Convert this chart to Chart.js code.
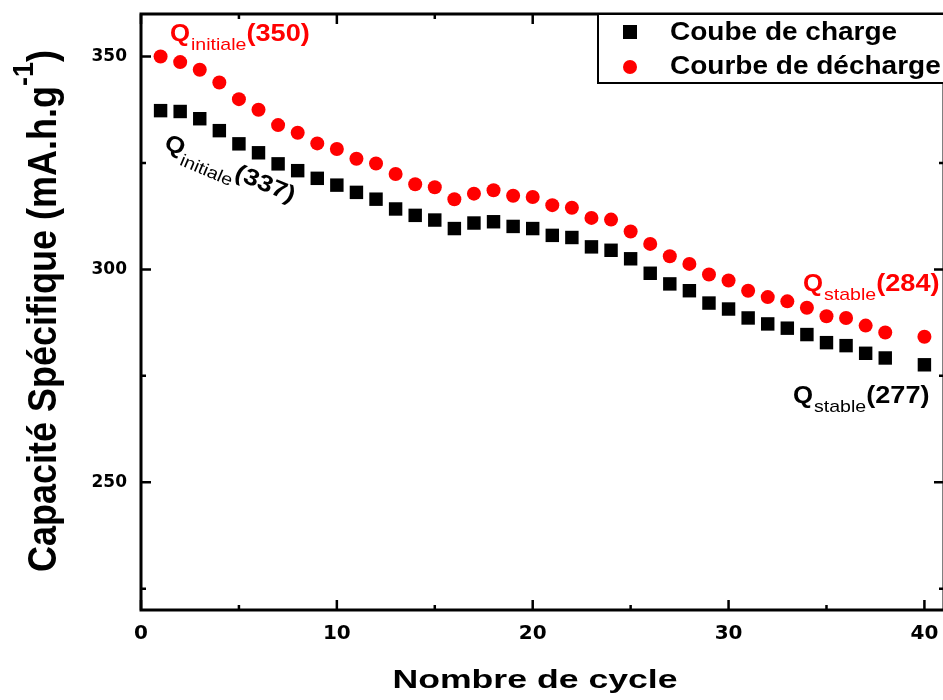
<!DOCTYPE html>
<html lang="fr">
<head>
<meta charset="utf-8">
<title>Capacité spécifique en fonction du nombre de cycles</title>
<script src="https://cdn.jsdelivr.net/npm/chart.js@4.4.1/dist/chart.umd.min.js"></script>
<style>
    html, body { margin: 0; padding: 0; background: #fff; overflow: hidden; }
    #cadre { width: 943px; height: 700px; overflow: hidden; }
</style>
</head>
<body>
<div id="cadre"><canvas id="graphe" width="960" height="700"></canvas></div>
<script>
// Numéros de cycle (le cycle 39 n'apparaît pas sur la figure)
const cycles = [1, 2, 3, 4, 5, 6, 7, 8, 9, 10, 11, 12, 13, 14, 15, 16, 17, 18, 19, 20,
    21, 22, 23, 24, 25, 26, 27, 28, 29, 30, 31, 32, 33, 34, 35, 36, 37, 38, 40];

// Capacité spécifique (mA.h.g-1)
const capaCharge = [337.3, 337.1, 335.4, 332.6, 329.5, 327.4, 324.8, 323.2, 321.4, 319.8,
    318.1, 316.5, 314.2, 312.7, 311.6, 309.6, 310.9, 311.2, 310.1, 309.6,
    308.0, 307.5, 305.3, 304.5, 302.5, 299.1, 296.6, 295.0, 292.1, 290.7,
    288.6, 287.2, 286.2, 284.7, 282.8, 282.1, 280.3, 279.2, 277.6];
const capaDecharge = [350.0, 348.7, 346.9, 343.9, 340.0, 337.5, 333.9, 332.1, 329.6, 328.3,
    326.0, 324.9, 322.4, 320.0, 319.3, 316.5, 317.8, 318.6, 317.3, 317.0,
    315.1, 314.5, 312.1, 311.7, 308.9, 306.0, 303.1, 301.3, 298.8, 297.4,
    295.0, 293.5, 292.5, 291.0, 289.0, 288.6, 286.8, 285.2, 284.2];

// Graduations
const ticksX = [0, 10, 20, 30, 40];
const minorX = [5, 15, 25, 35];
const ticksY = [250, 300, 350];
const minorY = [225, 275, 325];

const labelCharge = 'Coube de charge';
const labelDecharge = 'Courbe de décharge';

// Annotations (position en unités du graphique)
const annotations = [
    { sub: 'initiale', val: '(350)', x: 1.48, y: 353.7, color: '#ff0000', angle: 0 },
    { sub: 'initiale', val: '(337)', x: 1.12, y: 328.5, color: '#000000', angle: 23 },
    { sub: 'stable', val: '(284)', x: 33.8, y: 294.9, color: '#ff0000', angle: 0 },
    { sub: 'stable', val: '(277)', x: 33.29, y: 268.6, color: '#000000', angle: 0 }
];

const police = '"Liberation Sans", Arial, sans-serif';

function texteEtire(ctx, str, x, y, font, etire) {
    ctx.save();
    ctx.font = font;
    ctx.translate(x, y);
    ctx.scale(etire, 1);
    ctx.fillText(str, 0, 0);
    const w = ctx.measureText(str).width * etire;
    ctx.restore();
    return w;
}

// Cadre avec graduations vers l'intérieur
const cadrePlugin = {
    id: 'cadrePlugin',
    afterDatasetsDraw(chart) {
        const ctx = chart.ctx;
        const a = chart.chartArea;
        const sx = chart.scales.x;
        const sy = chart.scales.y;
        ctx.save();
        ctx.strokeStyle = '#000';
        ctx.lineWidth = 3;
        ctx.strokeRect(a.left, a.top, a.right - a.left, a.bottom - a.top);
        ctx.lineWidth = 2.5;
        ctx.beginPath();
        function tickX(v, l) {
            const px = sx.getPixelForValue(v);
            ctx.moveTo(px, a.bottom); ctx.lineTo(px, a.bottom - l);
            ctx.moveTo(px, a.top); ctx.lineTo(px, a.top + l);
        }
        function tickY(v, l) {
            const py = sy.getPixelForValue(v);
            ctx.moveTo(a.left, py); ctx.lineTo(a.left + l, py);
            ctx.moveTo(a.right, py); ctx.lineTo(a.right - l, py);
        }
        ticksX.forEach(v => tickX(v, 10));
        minorX.forEach(v => tickX(v, 5));
        ticksY.forEach(v => tickY(v, 10));
        minorY.forEach(v => tickY(v, 5));
        ctx.stroke();
        ctx.restore();
    },
    afterDraw(chart) {
        const ctx = chart.ctx;
        const a = chart.chartArea;
        const sx = chart.scales.x;
        const sy = chart.scales.y;

        // Titre de l'axe X
        ctx.save();
        ctx.fillStyle = '#000';
        ctx.textAlign = 'center';
        texteEtire(ctx, 'Nombre de cycle', 535, 688, 'bold 26px ' + police, 1.37);
        ctx.restore();

        // Titre de l'axe Y (avec exposant)
        ctx.save();
        ctx.fillStyle = '#000';
        const fPrinc = 'bold 36px ' + police;
        const fExp = 'bold 27px ' + police;
        ctx.font = fPrinc;
        const tPrinc = 'Capacité Spécifique (mA.h.g';
        const wPrinc = ctx.measureText(tPrinc).width;
        const wFin = ctx.measureText(')').width;
        ctx.font = fExp;
        const wExp = ctx.measureText('-1').width;
        const total = wPrinc + wExp + wFin;
        ctx.translate(56, 311);
        ctx.scale(1.12, 1);
        ctx.rotate(-Math.PI / 2);
        let u = -total / 2;
        ctx.font = fPrinc;
        ctx.fillText(tPrinc, u, 0);
        u += wPrinc;
        ctx.font = fExp;
        ctx.fillText('-1', u, -20.5);
        u += wExp;
        ctx.font = fPrinc;
        ctx.fillText(')', u, 0);
        ctx.restore();

        // Légende encadrée
        const lx = a.left + 457;
        ctx.save();
        ctx.strokeStyle = '#000';
        ctx.lineWidth = 2;
        ctx.fillStyle = '#fff';
        ctx.fillRect(lx, a.top, a.right - lx, 69);
        ctx.strokeRect(lx, a.top, a.right - lx + 10, 69);
        const ds = chart.data.datasets;
        ctx.fillStyle = ds[0].backgroundColor;
        ctx.fillRect(lx + 25, a.top + 11, 14, 14);
        ctx.fillStyle = ds[1].backgroundColor;
        ctx.beginPath();
        ctx.arc(lx + 32, a.top + 53, 7, 0, Math.PI * 2);
        ctx.fill();
        ctx.fillStyle = '#000';
        texteEtire(ctx, ds[0].label, lx + 72, a.top + 26, 'bold 25px ' + police, 1.12);
        texteEtire(ctx, ds[1].label, lx + 72, a.top + 60, 'bold 25px ' + police, 1.12);
        ctx.restore();

        // Annotations Q initiale / Q stable
        annotations.forEach(an => {
            ctx.save();
            ctx.fillStyle = an.color;
            ctx.translate(sx.getPixelForValue(an.x), sy.getPixelForValue(an.y));
            ctx.rotate(an.angle * Math.PI / 180);
            let p = texteEtire(ctx, 'Q', 0, 0, 'bold 23px ' + police, 1.12) + 1;
            p += texteEtire(ctx, an.sub, p, 9, '17px ' + police, 1.15);
            texteEtire(ctx, an.val, p, 0, 'bold 23px ' + police, 1.18);
            ctx.restore();
        });
    }
};

const ctx = document.getElementById('graphe').getContext('2d');

new Chart(ctx, {
    type: 'scatter',
    data: {
        datasets: [{
            label: labelCharge,
            data: cycles.map((c, i) => ({ x: c, y: capaCharge[i] })),
            backgroundColor: '#000000',
            borderWidth: 0,
            pointStyle: 'rect',
            pointRadius: 9.5
        }, {
            label: labelDecharge,
            data: cycles.map((c, i) => ({ x: c, y: capaDecharge[i] })),
            backgroundColor: '#ff0000',
            borderWidth: 0,
            pointStyle: 'circle',
            pointRadius: 7
        }]
    },
    options: {
        responsive: false,
        animation: false,
        events: [],
        layout: { padding: { top: 14, right: 16, left: 0, bottom: 0 } },
        scales: {
            x: {
                type: 'linear',
                min: 0,
                max: 41,
                afterBuildTicks: axis => { axis.ticks = ticksX.map(v => ({ value: v })); },
                afterFit: axis => {
                    axis.height = 90;
                    axis.paddingLeft = 0;
                    axis.paddingRight = 0;
                },
                grid: { display: false, drawTicks: false },
                border: { display: false },
                ticks: {
                    padding: 12,
                    color: '#000',
                    font: { family: '"DejaVu Sans", sans-serif', size: 20, weight: 'bold' }
                }
            },
            y: {
                min: 220,
                max: 360,
                afterBuildTicks: axis => { axis.ticks = ticksY.map(v => ({ value: v })); },
                afterFit: axis => {
                    axis.width = 141;
                    axis.paddingTop = 0;
                    axis.paddingBottom = 0;
                },
                grid: { display: false, drawTicks: false },
                border: { display: false },
                ticks: {
                    padding: 14,
                    color: '#000',
                    font: { family: '"DejaVu Sans", sans-serif', size: 17, weight: 'bold' }
                }
            }
        },
        plugins: {
            legend: { display: false },
            tooltip: { enabled: false }
        }
    },
    plugins: [cadrePlugin]
});
</script>
</body>
</html>
